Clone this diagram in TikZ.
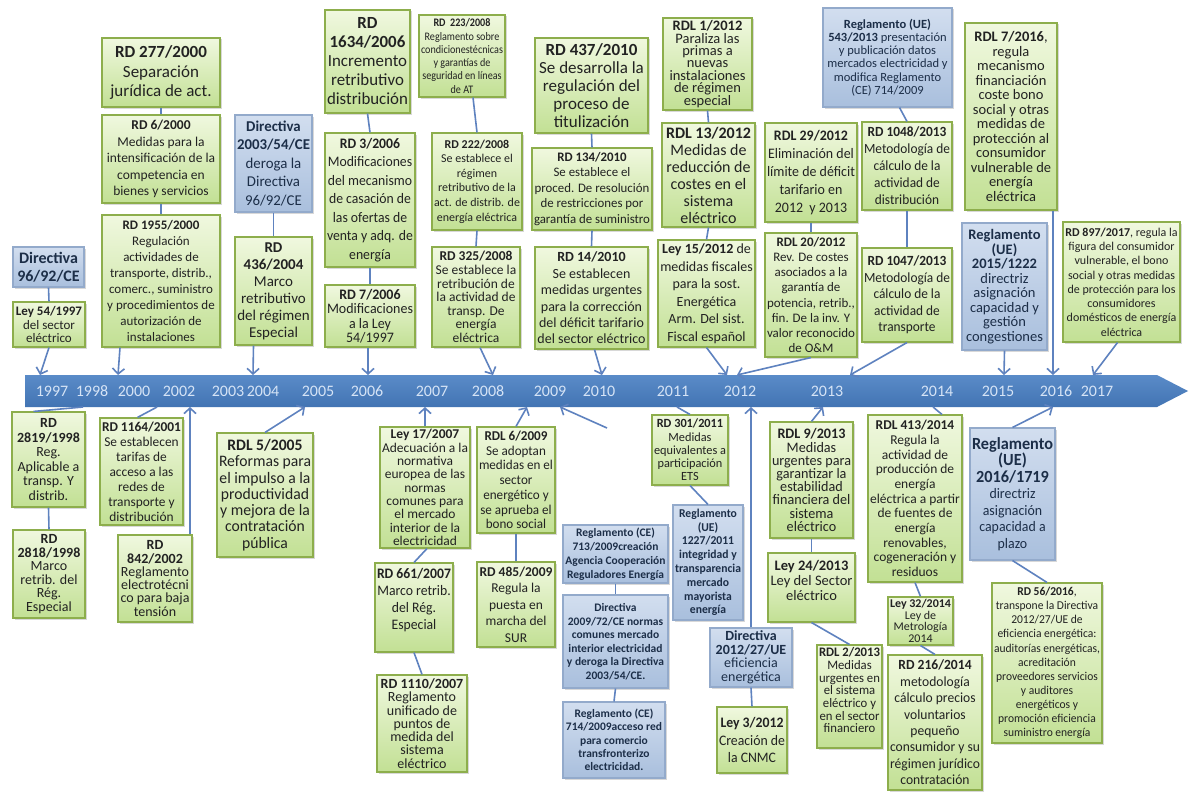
\documentclass[tikz,border=0pt]{standalone}
\usepackage{fontspec}
\setmainfont{Carlito}
\usepackage{graphicx}
\usetikzlibrary{arrows.meta,shadows}
\definecolor{gtop}{HTML}{F0F8DF}
\definecolor{gbot}{HTML}{C2E094}
\definecolor{gborder}{HTML}{8DAE4C}
\definecolor{gtext}{HTML}{222222}
\definecolor{btop}{HTML}{D2DEEF}
\definecolor{bbot}{HTML}{A9BFDD}
\definecolor{bborder}{HTML}{93AACB}
\definecolor{btext}{HTML}{1C2E48}
\definecolor{conn}{HTML}{5E82BF}
\definecolor{axtop}{HTML}{5A8BC8}
\definecolor{axbot}{HTML}{4274B3}
\definecolor{yrtext}{HTML}{D6E4F6}
\newsavebox\fitbx
\newcommand\fitin[3]{\sbox\fitbx{#3}\pgfmathsetmacro\fitsx{min(1,#1/\the\wd\fitbx)}\pgfmathsetmacro\fitsy{min(1,#2/(\the\ht\fitbx+\the\dp\fitbx))}\scalebox{\fitsx}[\fitsy]{\usebox\fitbx}}
\newcommand\stk[3]{\vbox{\fontsize{#1}{#2}\selectfont\lineskiplimit=-\maxdimen\baselineskip=#2pt\relax\let\\\cr\halign{\hfil##\hfil\cr#3\crcr}}}
\newcommand\BX[9]{%
 \pgfmathsetmacro\bxcx{(#3+#5)/2}%
 \pgfmathsetmacro\bxcy{(#4+#6)/2}%
 \pgfmathsetmacro\bxw{#5-#3}%
 \pgfmathsetmacro\bxh{#6-#4}%
 \pgfmathsetmacro\bxtw{#5-#3-4}%
 \pgfmathsetmacro\bxth{#6-#4-5}%
 \node[#1,minimum width=\bxw pt,minimum height=\bxh pt] (#2) at (\bxcx,\bxcy) {\fitin{\bxtw}{\bxth}{\stk{#7}{#8}{#9}}};}
\tikzset{
 gbox/.style={draw=gborder,line width=1.1pt,top color=gtop,bottom color=gbot,text=gtext,inner sep=0pt,
   drop shadow={opacity=0.3,shadow xshift=1.5pt,shadow yshift=-1.5pt}},
 bbox/.style={draw=bborder,line width=1.1pt,top color=btop,bottom color=bbot,text=btext,inner sep=0pt,
   drop shadow={opacity=0.3,shadow xshift=1.5pt,shadow yshift=-1.5pt}},
 ln/.style={draw=conn,line width=1.6pt},
 ar/.style={draw=conn,line width=1.6pt,-{Straight Barb[length=5.5pt,width=12pt]}},
 yr/.style={text=yrtext,font=\fontsize{16}{18}\selectfont,inner sep=0pt}
}
\begin{document}
\begin{tikzpicture}[x=1pt,y=-1pt]
\useasboundingbox (0,0) rectangle (1197,792);
\fill[white] (0,0) rectangle (1197,792);
% axis
\shade[top color=axtop,bottom color=axbot] (25,375) -- (1157,375) -- (1188,391) -- (1157,407) -- (25,407) -- cycle;
\node[yr] (y1997) at (52,391) {1997};
\node[yr] (y1998) at (92,391) {1998};
\node[yr] (y2000) at (134,391) {2000};
\node[yr] (y2002) at (179,391) {2002};
\node[yr] (y2003) at (228,391) {2003};
\node[yr] (y2004) at (263,391) {2004};
\node[yr] (y2005) at (318,391) {2005};
\node[yr] (y2006) at (367,391) {2006};
\node[yr] (y2007) at (432,391) {2007};
\node[yr] (y2008) at (488,391) {2008};
\node[yr] (y2009) at (550,391) {2009};
\node[yr] (y2010) at (599,391) {2010};
\node[yr] (y2011) at (673,391) {2011};
\node[yr] (y2012) at (740,391) {2012};
\node[yr] (y2013) at (827,391) {2013};
\node[yr] (y2014) at (937,391) {2014};
\node[yr] (y2015) at (998,391) {2015};
\node[yr] (y2016) at (1056,391) {2016};
\node[yr] (y2017) at (1097,391) {2017};
% top boxes
\BX{bbox}{dirA}{13}{247}{84}{287}{16}{18}{\textbf{Directiva}\\\textbf{96/92/CE}}
\BX{gbox}{leyA}{13}{302}{85}{347}{13}{13.5}{\textbf{Ley 54/1997}\\del sector\\eléctrico}
\BX{gbox}{rdA}{102}{38}{220}{107}{17}{19.5}{\textbf{RD 277/2000}\\Separación\\jurídica de act.}
\BX{gbox}{rdB}{102}{115}{220}{203}{13.5}{16.5}{\textbf{RD 6/2000}\\Medidas para la\\intensificación de la\\competencia en\\bienes y servicios}
\BX{gbox}{rdC}{102}{215}{220}{347}{13}{16}{\textbf{RD 1955/2000}\\Regulación\\actividades de\\transporte, distrib.,\\comerc., suministro\\y procedimientos de\\autorización de\\instalaciones}
\BX{bbox}{dirB}{235}{115}{312}{212}{15}{18.5}{\textbf{Directiva}\\\textbf{2003/54/CE}\\deroga la\\Directiva\\96/92/CE}
\BX{gbox}{rdD}{235}{237}{312}{345}{15}{17}{\textbf{RD}\\\textbf{436/2004}\\Marco\\retributivo\\del régimen\\Especial}
\BX{gbox}{rdE}{325}{10}{410}{113}{17}{19}{\textbf{RD}\\\textbf{1634/2006}\\Incremento\\retributivo\\distribución}
\BX{gbox}{rdF}{325}{133}{415}{267}{14.5}{18.5}{\textbf{RD 3/2006}\\Modificaciones\\del mecanismo\\de casación de\\las ofertas de\\venta y adq. de\\energía}
\BX{gbox}{rdG}{325}{285}{415}{347}{14.5}{14.5}{\textbf{RD 7/2006}\\Modificaciones\\a la Ley\\54/1997}
\BX{gbox}{rdH}{419}{15}{505}{97}{11.5}{13.3}{\textbf{RD\ \ 223/2008}\\Reglamento sobre\\condicionestécnicas\\y garantías de\\seguridad en líneas\\de AT}
\BX{gbox}{rdI}{432}{133}{522}{230}{12}{14.6}{\textbf{RD 222/2008}\\Se establece el\\régimen\\retributivo de la\\act. de distrib. de\\energía eléctrica}
\BX{gbox}{rdJ}{432}{247}{520}{347}{13.5}{13.6}{\textbf{RD 325/2008}\\Se establece la\\retribución de\\la actividad de\\transp. De\\energía\\eléctrica}
\BX{gbox}{rdK}{535}{38}{648}{133}{17}{18.2}{\textbf{RD 437/2010}\\Se desarrolla la\\regulación del\\proceso de\\titulización}
\BX{gbox}{rdL}{532}{148}{652}{230}{13}{15.5}{\textbf{RD 134/2010}\\Se establece el\\proced. De resolución\\de restricciones por\\garantía de suministro}
\BX{gbox}{rdM}{535}{247}{648}{349}{14}{16.4}{\textbf{RD 14/2010}\\Se establecen\\medidas urgentes\\para la corrección\\del déficit tarifario\\del sector eléctrico}
\BX{gbox}{rdlA}{663}{18}{752}{110}{14.5}{12.5}{\textbf{RDL 1/2012}\\Paraliza las\\primas a\\nuevas\\instalaciones\\de régimen\\especial}
\BX{gbox}{rdlB}{662}{123}{755}{227}{16}{17}{\textbf{RDL 13/2012}\\Medidas de\\reducción de\\costes en el\\sistema\\eléctrico}
\BX{gbox}{leyB}{658}{240}{755}{347}{14}{17.5}{\textbf{Ley 15/2012} de\\medidas fiscales\\para la sost.\\Energética\\Arm. Del sist.\\Fiscal español}
\BX{gbox}{rdlC}{765}{123}{857}{222}{14.5}{18}{\textbf{RDL 29/2012}\\Eliminación del\\límite de déficit\\tarifario en\\2012\ \ y 2013}
\BX{gbox}{rdlD}{765}{233}{857}{357}{13}{15.2}{\textbf{RDL 20/2012}\\Rev. De costes\\asociados a la\\garantía de\\potencia, retrib.,\\fin. De la inv. Y\\valor reconocido\\de O\&M}
\BX{bbox}{regA}{823}{8}{952}{107}{12.5}{13.2}{\textbf{Reglamento (UE)}\\\textbf{543/2013} presentación\\y publicación datos\\mercados electricidad y\\modifica Reglamento\\(CE) 714/2009}
\BX{gbox}{rdN}{862}{122}{952}{210}{14}{17}{\textbf{RD 1048/2013}\\Metodología de\\cálculo de la\\actividad de\\distribución}
\BX{gbox}{rdO}{862}{248}{952}{342}{14}{16.5}{\textbf{RD 1047/2013}\\Metodología de\\cálculo de la\\actividad de\\transporte}
\BX{gbox}{rdlE}{965}{23}{1057}{210}{14.5}{14.5}{\textbf{RDL 7/2016},\\regula\\mecanismo\\financiación\\coste bono\\social y otras\\medidas de\\protección al\\consumidor\\vulnerable de\\energía\\eléctrica}
\BX{bbox}{regB}{962}{223}{1047}{350}{14.5}{14.5}{\textbf{Reglamento}\\\textbf{(UE)}\\\textbf{2015/1222}\\directriz\\asignación\\capacidad y\\gestión\\congestiones}
\BX{gbox}{rdP}{1063}{222}{1180}{342}{12}{14.3}{\textbf{RD 897/2017}, regula la\\figura del consumidor\\vulnerable, el bono\\social y otras medidas\\de protección para los\\consumidores\\domésticos de energía\\eléctrica}
% bottom boxes
\BX{gbox}{rdQ}{12}{412}{85}{507}{14}{14.6}{\textbf{RD}\\\textbf{2819/1998}\\Reg.\\Aplicable a\\transp. Y\\distrib.}
\BX{gbox}{rdR}{13}{530}{85}{618}{14}{13.5}{\textbf{RD}\\\textbf{2818/1998}\\Marco\\retrib. del\\Rég.\\Especial}
\BX{gbox}{rdS}{100}{418}{183}{525}{13.5}{15}{\textbf{RD 1164/2001}\\Se establecen\\tarifas de\\acceso a las\\redes de\\transporte y\\distribución}
\BX{gbox}{rdT}{118}{535}{192}{622}{14}{13.3}{\textbf{RD}\\\textbf{842/2002}\\Reglamento\\electrotécni\\co para baja\\tensión}
\BX{gbox}{rdlF}{217}{433}{313}{557}{16}{16.3}{\textbf{RDL 5/2005}\\Reformas para\\el impulso a la\\productividad\\y mejora de la\\contratación\\pública}
\BX{gbox}{leyC}{380}{427}{470}{548}{13.5}{13.4}{\textbf{Ley 17/2007}\\Adecuación a la\\normativa\\europea de las\\normas\\comunes para\\el mercado\\interior de la\\electricidad}
\BX{gbox}{rdU}{375}{563}{453}{652}{14.5}{17}{\textbf{RD 661/2007}\\Marco retrib.\\del Rég.\\Especial\\{}}
\BX{gbox}{rdV}{377}{675}{467}{772}{14}{13.3}{\textbf{RD 1110/2007}\\Reglamento\\unificado de\\puntos de\\medida del\\sistema\\eléctrico}
\BX{gbox}{rdlG}{477}{427}{555}{533}{13.5}{14.7}{\textbf{RDL 6/2009}\\Se adoptan\\medidas en el\\sector\\energético y\\se aprueba el\\bono social}
\BX{gbox}{rdW}{477}{562}{555}{647}{13.5}{16.5}{\textbf{RD 485/2009}\\Regula la\\puesta en\\marcha del\\SUR}
\BX{bbox}{regC}{563}{525}{668}{583}{11.5}{14}{\textbf{Reglamento (CE)}\\\textbf{713/2009creación}\\\textbf{Agencia Cooperación}\\\textbf{Reguladores Energía}}
\BX{bbox}{dirC}{563}{595}{668}{688}{11.5}{13.5}{\textbf{Directiva}\\\textbf{2009/72/CE normas}\\\textbf{comunes mercado}\\\textbf{interior electricidad}\\\textbf{y deroga la Directiva}\\\textbf{2003/54/CE.}}
\BX{bbox}{regD}{563}{702}{665}{778}{11.5}{13.3}{\textbf{Reglamento (CE)}\\\textbf{714/2009acceso red}\\\textbf{para comercio}\\\textbf{transfronterizo}\\\textbf{electricidad.}}
\BX{gbox}{rdX}{652}{415}{728}{485}{12.5}{13.3}{\textbf{RD 301/2011}\\Medidas\\equivalentes a\\participación\\ETS}
\BX{bbox}{regE}{673}{505}{743}{620}{12}{13.8}{\textbf{Reglamento}\\\textbf{(UE)}\\\textbf{1227/2011}\\\textbf{integridad y}\\\textbf{transparencia}\\\textbf{mercado}\\\textbf{mayorista}\\\textbf{energía}}
\BX{bbox}{dirD}{710}{628}{792}{687}{14}{13.5}{\textbf{Directiva}\\\textbf{2012/27/UE}\\eficiencia\\energética}
\BX{gbox}{leyD}{717}{707}{787}{773}{14.5}{17.5}{\textbf{Ley 3/2012}\\Creación de\\la CNMC}
\BX{gbox}{rdlH}{770}{422}{853}{538}{14.5}{13.2}{\textbf{RDL 9/2013}\\Medidas\\urgentes para\\garantizar la\\estabilidad\\financiera del\\sistema\\eléctrico}
\BX{gbox}{leyE}{768}{553}{855}{622}{14.5}{15}{\textbf{Ley 24/2013}\\Ley del Sector\\eléctrico\\{}}
\BX{gbox}{rdlI}{817}{645}{882}{748}{13.5}{13.2}{\textbf{RDL 2/2013}\\Medidas\\urgentes en\\el sistema\\eléctrico y\\en el sector\\financiero\\{}}
\BX{gbox}{rdlJ}{868}{415}{962}{582}{13.5}{14.7}{\textbf{RDL 413/2014}\\Regula la\\actividad de\\producción de\\energía\\eléctrica a partir\\de fuentes de\\energía\\renovables,\\cogeneración y\\residuos}
\BX{gbox}{leyF}{888}{597}{953}{645}{12}{11.7}{\textbf{Ley 32/2014}\\Ley de\\Metrología\\2014}
\BX{gbox}{rdY}{888}{655}{982}{790}{14}{16.4}{\textbf{RD 216/2014}\\metodología\\cálculo precios\\voluntarios\\pequeño\\consumidor y su\\régimen jurídico\\contratación}
\BX{bbox}{regF}{970}{428}{1055}{560}{14.5}{16.5}{{\fontsize{17}{19}\selectfont\textbf{Reglamento}}\\{\fontsize{17}{19}\selectfont\textbf{(UE)}}\\{\fontsize{17}{19}\selectfont\textbf{2016/1719}}\\directriz\\asignación\\capacidad a\\plazo}
\BX{gbox}{rdZ}{992}{583}{1102}{743}{12}{14.1}{\textbf{RD 56/2016},\\transpone la Directiva\\2012/27/UE de\\eficiencia energética:\\auditorías energéticas,\\acreditación\\proveedores servicios\\y auditores\\energéticos y\\promoción eficiencia\\suministro energía}
% axis coordinates
\coordinate (t1) at (40,375);
\coordinate (t2) at (118,375);
\coordinate (t3) at (253,375);
\coordinate (t4) at (368,375);
\coordinate (t5) at (493,375);
\coordinate (t6) at (602,375);
\coordinate (t7) at (727,375);
\coordinate (t8) at (737,375);
\coordinate (t9) at (850,375);
\coordinate (t10) at (1053,375);
\coordinate (t11) at (1004,375);
\coordinate (t12) at (1093,375);
\coordinate (b1) at (83,407);
\coordinate (b2) at (157,407);
\coordinate (b3) at (190,407);
\coordinate (b4) at (305,407);
\coordinate (b5) at (425,407);
\coordinate (b6) at (527,407);
\coordinate (b7) at (560,407);
\coordinate (f1) at (607,428);
\coordinate (b8) at (677,407);
\coordinate (b9) at (751,407);
\coordinate (b10) at (823,407);
\coordinate (b11) at (933,407);
\coordinate (b12) at (1053,407);
% top connectors
\draw[ln] (dirA.south) -- (leyA.north);
\draw[ln] (rdA.south) -- (rdB.north);
\draw[ln] (rdB.south) -- (rdC.north);
\draw[ln] (dirB.south) -- (rdD.north);
\draw[ln] (rdE.south) -- (rdF.north);
\draw[ln] (rdF.south) -- (rdG.north);
\draw[ln] ([xshift=11pt]rdH.south) -- (rdI.north);
\draw[ln] (rdI.south) -- (rdJ.north);
\draw[ln] (rdK.south) -- (rdL.north);
\draw[ln] (rdL.south) -- (rdM.north);
\draw[ln] (rdlA.south) -- (rdlB.north);
\draw[ln] (rdlB.south) -- (leyB.north);
\draw[ln] (rdlC.south) -- (rdlD.north);
\draw[ln] ([xshift=12pt]regA.south) -- (rdN.north);
\draw[ln] (rdN.south) -- (rdO.north);
\draw[ar] (leyA.south) -- (t1);
\draw[ar] ([xshift=-41pt]rdC.south) -- (t2);
\draw[ar] ([xshift=-20pt]rdD.south) -- (t3);
\draw[ar] ([xshift=-2pt]rdG.south) -- (t4);
\draw[ar] ([xshift=4pt]rdJ.south) -- (t5);
\draw[ar] ([xshift=3pt]rdM.south) -- (t6);
\draw[ar] (leyB.south) -- (t7);
\draw[ar] (rdlD.south) -- (t8);
\draw[ar] (rdO.south) -- (t9);
\draw[ar] ([xshift=42pt]rdlE.south) -- (t10);
\draw[ar] (regB.south) -- (t11);
\draw[ar] ([xshift=-4pt]rdP.south) -- (t12);
% bottom connectors
\draw[ln] ([xshift=-15pt]rdQ.north) -- (b1);
\draw[ln] (rdQ.south) -- (rdR.north);
\draw[ln] ([xshift=-4pt]rdS.north) -- (b2);
\draw[ar] ([xshift=35pt]rdT.north) -- (b3);
\draw[ar] (rdlF.north) -- (b4);
\draw[ar] (leyC.north) -- (b5);
\draw[ln] ([xshift=2pt]leyC.south) -- (rdU.north);
\draw[ln] (rdU.south) -- (rdV.north);
\draw[ar] (rdlG.north) -- (b6);
\draw[ln] (rdlG.south) -- (rdW.north);
\draw[ar] (f1) -- (b7);
\draw[ln] (rdX.north) -- (b8);
\draw[ln] (rdX.south) -- (regE.north);
\draw[ln] (regC.south) -- (dirC.north);
\draw[ln] (dirC.south) -- (regD.north);
\draw[ar] (dirD.north) -- (b9);
\draw[ln] (dirD.south) -- (leyD.north);
\draw[ar] (rdlH.north) -- (b10);
\draw[ln] (rdlH.south) -- (leyE.north);
\draw[ln] (leyE.south) -- (rdlI.north);
\draw[ln] ([xshift=27pt]rdlJ.north) -- (b11);
\draw[ln] (rdlJ.south) -- (leyF.north);
\draw[ln] (leyF.south) -- (rdY.north);
\draw[ar] (regF.north) -- (b12);
\draw[ln] (regF.south) -- (rdZ.north);
\end{tikzpicture}
\end{document}
